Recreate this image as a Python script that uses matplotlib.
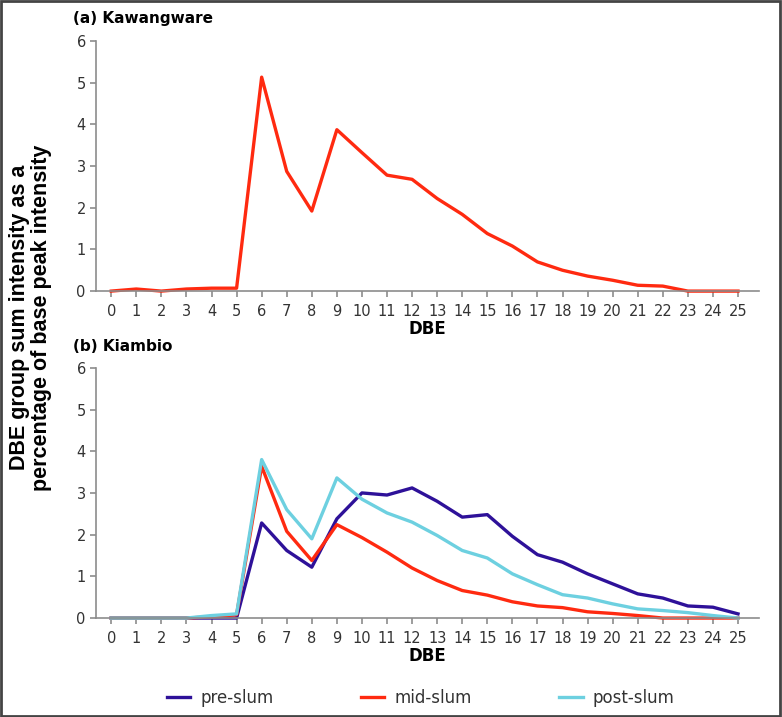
import matplotlib
matplotlib.use("Agg")
import matplotlib.pyplot as plt
from matplotlib.patches import Rectangle

dbe = list(range(26))

kawangware = [0, 0.05, 0, 0.05, 0.07, 0.07, 5.13, 2.87, 1.92, 3.87, 3.32, 2.78, 2.68,
              2.22, 1.84, 1.38, 1.08, 0.70, 0.50, 0.36, 0.26, 0.14, 0.12, 0, 0, 0]

pre_slum = [0, 0, 0, 0, 0, 0, 2.28, 1.62, 1.22, 2.38, 3.0, 2.95, 3.12,
            2.8, 2.42, 2.48, 1.96, 1.52, 1.34, 1.06, 0.82, 0.58, 0.48, 0.29, 0.26, 0.1]
mid_slum = [0, 0, 0, 0, 0.03, 0.08, 3.64, 2.08, 1.38, 2.24, 1.93, 1.58, 1.2,
            0.9, 0.66, 0.55, 0.39, 0.29, 0.25, 0.15, 0.11, 0.06, 0, 0, 0, 0]
post_slum = [0, 0, 0, 0, 0.06, 0.1, 3.8, 2.6, 1.9, 3.36, 2.85, 2.52, 2.3,
             1.98, 1.62, 1.44, 1.06, 0.8, 0.56, 0.48, 0.34, 0.22, 0.18, 0.13, 0.06, 0]

c_pre = "#2e1199"
c_mid = "#ff2a10"
c_post = "#6dd0e0"
grey = "#8c8c8c"
txt = "#333333"

fig = plt.figure(figsize=(7.82, 7.17), dpi=100)

def style(ax):
    ax.set_xlim(-0.6, 25.85)
    ax.set_ylim(0, 6)
    for s in ["top", "right"]:
        ax.spines[s].set_visible(False)
    for s in ["left", "bottom"]:
        ax.spines[s].set_color(grey)
        ax.spines[s].set_linewidth(1.2)
    ax.set_xticks(dbe)
    ax.set_yticks(range(7))
    ax.tick_params(axis="both", colors=grey, labelcolor=txt, labelsize=10.5, length=4, width=1.2)
    ax.tick_params(axis="x", pad=5)
    ax.set_xlabel("DBE", fontsize=12, fontweight="bold", color="black", labelpad=1)

ax1 = fig.add_axes([0.123, 0.594, 0.848, 0.349])
ax1.plot(dbe, kawangware, color=c_mid, lw=2.4, clip_on=False)
style(ax1)
ax1.set_title("(a) Kawangware", fontsize=11, fontweight="bold", loc="left", x=-0.035, pad=13)

ax2 = fig.add_axes([0.123, 0.138, 0.848, 0.349])
ax2.plot(dbe, pre_slum, color=c_pre, lw=2.4, label="pre-slum", clip_on=False)
ax2.plot(dbe, mid_slum, color=c_mid, lw=2.4, label="mid-slum", clip_on=False)
ax2.plot(dbe, post_slum, color=c_post, lw=2.4, label="post-slum", clip_on=False)
style(ax2)
ax2.set_title("(b) Kiambio", fontsize=11, fontweight="bold", loc="left", x=-0.035, pad=12)

fig.text(0.039, 0.557, "DBE group sum intensity as a\npercentage of base peak intensity",
         rotation=90, ha="center", va="center", fontsize=15.5, fontweight="bold",
         family="Liberation Sans", linespacing=1.05)

fig.legend(loc="center", bbox_to_anchor=(0.538, 0.027), ncol=3, frameon=False,
           fontsize=12, handlelength=1.4, handletextpad=0.6, columnspacing=5.25,
           labelcolor=txt)

fig.add_artist(Rectangle((0.001, 0.001), 0.997, 0.997, transform=fig.transFigure,
                         fill=False, edgecolor="#444444", lw=2))

fig.savefig("out.png", dpi=100)
